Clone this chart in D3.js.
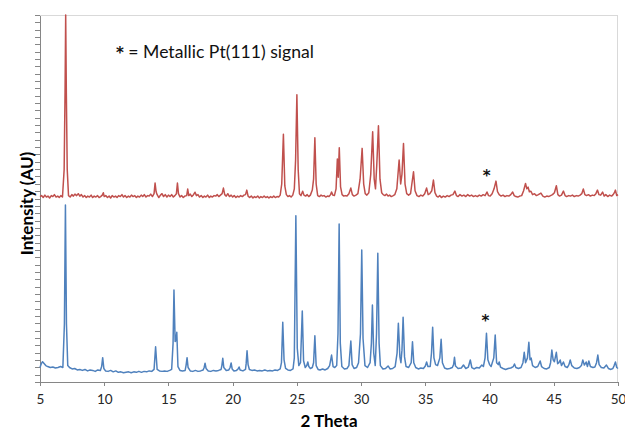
<!DOCTYPE html>
<html>
<head>
<meta charset="utf-8">
<script src="https://cdn.jsdelivr.net/npm/d3@7"></script>
<style>
  body { margin: 0; background: #fff; }
  svg { display: block; font-family: Lato, "Open Sans", sans-serif; }
  .axis path, .axis line { stroke: #868686; shape-rendering: crispEdges; }
  .axis text { fill: #262626; font-size: 13.5px; font-family: Lato, sans-serif; }
  .frame { stroke: #d9d9d9; fill: none; shape-rendering: crispEdges; }
  .trace { fill: none; stroke-width: 1.5; stroke-linejoin: round; }
  .star { font-family: "DejaVu Sans", sans-serif; font-weight: bold; }
</style>
</head>
<body>
<div id="chart"></div>
<script>
// 2 theta / intensity pairs (counts are arbitrary)
var x_ticks = [5, 10, 15, 20, 25, 30, 35, 40, 45, 50];
var red_offset = 1800;

var blue_pattern = [
  [5.00,150],[5.10,190],[5.20,210],[5.30,195],[5.45,170],[5.6,160],[5.8,150],[6.0,155],[6.2,145],[6.4,150],
  [6.6,160],[6.78,150],[6.9,600],[6.98,1832],[7.06,600],[7.16,170],[7.3,150],[7.5,135],[7.7,140],[7.9,125],
  [8.1,130],[8.3,120],[8.5,130],[8.7,115],[8.9,125],[9.1,120],[9.3,110],[9.5,125],[9.7,120],[9.8,160],
  [9.88,252],[9.97,140],[10.1,115],[10.3,110],[10.5,120],[10.7,105],[10.9,115],[11.1,100],[11.3,105],[11.5,95],
  [11.7,100],[11.9,105],[12.1,95],[12.3,105],[12.5,100],[12.7,110],[12.9,100],[13.1,110],[13.3,105],[13.5,115],
  [13.7,110],[13.88,130],[14.0,365],[14.12,130],[14.3,115],[14.5,110],[14.7,115],[14.9,110],[15.1,120],[15.25,130],
  [15.36,400],[15.43,952],[15.52,420],[15.58,430],[15.65,514],[15.74,160],[15.9,120],[16.1,115],[16.3,120],[16.37,170],
  [16.45,252],[16.53,150],[16.7,115],[16.9,110],[17.1,120],[17.3,110],[17.5,115],[17.7,125],[17.78,150],[17.85,194],
  [17.93,140],[18.1,115],[18.3,110],[18.5,120],[18.7,115],[18.9,120],[19.1,130],[19.16,170],[19.23,245],[19.31,150],
  [19.5,120],[19.7,125],[19.8,150],[19.88,197],[19.96,135],[20.1,115],[20.3,120],[20.42,135],[20.5,155],[20.58,125],
  [20.8,115],[21.0,130],[21.05,190],[21.12,324],[21.2,180],[21.3,130],[21.5,120],[21.7,125],[21.9,115],[22.1,120],
  [22.3,115],[22.5,125],[22.7,115],[22.9,120],[23.1,115],[23.3,125],[23.5,120],[23.7,135],[23.8,200],[23.9,618],
  [24.0,230],[24.12,140],[24.3,125],[24.5,120],[24.7,135],[24.8,250],[24.92,1721],[25.03,350],[25.15,170],[25.28,200],
  [25.42,735],[25.52,220],[25.65,150],[25.77,170],[25.85,207],[25.93,160],[26.05,140],[26.2,150],[26.3,200],[26.4,479],
  [26.5,170],[26.65,130],[26.8,125],[27.0,135],[27.2,125],[27.4,140],[27.55,170],[27.7,279],[27.82,160],[27.95,150],
  [28.1,170],[28.2,500],[28.29,1635],[28.38,400],[28.5,160],[28.7,135],[28.9,140],[29.05,170],[29.2,424],[29.3,180],
  [29.45,140],[29.65,150],[29.8,200],[29.95,500],[30.05,1366],[30.15,450],[30.3,170],[30.5,150],[30.7,200],[30.8,400],
  [30.88,797],[30.98,300],[31.1,170],[31.2,500],[31.3,1332],[31.4,400],[31.5,170],[31.7,135],[31.9,140],[32.1,166],
  [32.25,135],[32.45,140],[32.65,160],[32.8,300],[32.9,608],[33.02,260],[33.1,200],[33.18,330],[33.27,670],[33.38,260],
  [33.5,160],[33.7,150],[33.9,200],[34.0,417],[34.1,200],[34.25,150],[34.45,135],[34.65,145],[34.85,140],[35.0,165],
  [35.1,207],[35.2,160],[35.38,160],[35.48,300],[35.57,566],[35.67,250],[35.8,180],[35.95,170],[36.13,250],[36.23,442],
  [36.33,200],[36.5,145],[36.7,135],[36.9,140],[37.1,150],[37.2,180],[37.27,256],[37.35,165],[37.55,140],[37.8,145],
  [37.97,176],[38.15,140],[38.35,155],[38.5,228],[38.62,150],[38.8,135],[39.0,150],[39.2,145],[39.4,176],[39.52,160],
  [39.65,250],[39.76,504],[39.87,230],[40.0,180],[40.12,160],[40.33,250],[40.44,486],[40.55,200],[40.68,180],[40.75,207],
  [40.85,155],[41.05,140],[41.25,130],[41.45,140],[41.65,145],[41.85,160],[41.94,186],[42.05,150],[42.25,140],[42.45,150],
  [42.6,200],[42.7,307],[42.8,200],[42.95,250],[43.06,411],[43.15,230],[43.24,248],[43.35,170],[43.55,150],[43.75,160],
  [43.94,217],[44.05,160],[44.25,140],[44.45,135],[44.65,150],[44.75,200],[44.85,331],[44.95,230],[45.05,210],[45.2,307],
  [45.3,190],[45.4,200],[45.5,228],[45.6,170],[45.75,207],[45.88,160],[46.05,150],[46.18,180],[46.28,228],[46.4,170],
  [46.6,145],[46.8,140],[47.0,150],[47.15,170],[47.26,228],[47.38,175],[47.52,207],[47.62,160],[47.73,217],[47.85,160],
  [48.05,150],[48.2,155],[48.33,200],[48.43,279],[48.53,180],[48.7,150],[48.9,145],[49.1,176],[49.25,140],[49.45,130],
  [49.6,140],[49.7,170],[49.8,207],[49.9,150],[50.0,140]
];

var red_pattern = [
  [5.0,120],[5.12,130],[5.25,110],[5.38,135],[5.5,115],[5.62,125],[5.75,105],[5.88,130],[6.0,120],[6.12,140],
  [6.25,115],[6.38,125],[6.5,110],[6.62,130],[6.75,115],[6.88,400],[6.95,1200],[7.0,2000],[7.05,1200],[7.12,400],
  [7.22,130],[7.35,115],[7.48,140],[7.6,125],[7.72,145],[7.85,130],[7.98,150],[8.1,125],[8.22,140],[8.35,115],
  [8.48,130],[8.6,110],[8.72,125],[8.85,115],[8.98,135],[9.1,110],[9.22,125],[9.35,115],[9.48,130],[9.6,110],
  [9.72,120],[9.85,135],[9.93,160],[10.0,120],[10.12,130],[10.25,110],[10.38,125],[10.5,105],[10.62,130],[10.75,115],
  [10.88,125],[11.0,110],[11.12,130],[11.25,120],[11.38,140],[11.5,115],[11.62,130],[11.75,110],[11.88,125],[12.0,115],
  [12.12,135],[12.25,120],[12.38,130],[12.5,110],[12.62,125],[12.75,115],[12.88,135],[13.0,120],[13.12,140],[13.25,115],
  [13.38,130],[13.5,125],[13.62,145],[13.75,120],[13.88,150],[13.96,260],[14.04,170],[14.12,140],[14.25,110],[14.38,135],
  [14.5,150],[14.62,120],[14.75,140],[14.88,115],[15.0,135],[15.12,120],[15.25,140],[15.38,115],[15.5,130],[15.62,150],
  [15.7,260],[15.78,150],[15.9,115],[16.02,130],[16.15,110],[16.28,125],[16.42,130],[16.5,198],[16.58,130],[16.7,145],
  [16.82,120],[16.95,140],[17.07,165],[17.18,130],[17.3,140],[17.42,115],[17.55,130],[17.68,110],[17.8,125],[17.92,115],
  [18.05,135],[18.18,110],[18.3,125],[18.42,115],[18.55,130],[18.68,125],[18.8,140],[18.92,120],[19.05,135],[19.18,150],
  [19.28,208],[19.38,140],[19.5,125],[19.62,150],[19.75,120],[19.88,135],[20.0,115],[20.12,130],[20.25,110],[20.38,125],
  [20.5,115],[20.62,130],[20.75,120],[20.88,135],[21.0,140],[21.1,187],[21.2,125],[21.32,110],[21.45,125],[21.58,105],
  [21.7,120],[21.82,110],[21.95,125],[22.08,105],[22.2,120],[22.32,110],[22.45,125],[22.58,110],[22.7,120],[22.82,105],
  [22.95,120],[23.08,110],[23.2,125],[23.32,110],[23.45,120],[23.58,115],[23.7,135],[23.82,250],[23.95,764],[24.06,230],
  [24.18,140],[24.3,120],[24.42,130],[24.55,115],[24.68,135],[24.8,200],[24.9,500],[25.0,1174],[25.1,400],[25.2,150],
  [25.32,130],[25.45,175],[25.55,135],[25.68,125],[25.8,140],[25.92,120],[26.05,135],[26.2,187],[26.3,300],[26.4,729],
  [26.5,250],[26.62,130],[26.75,120],[26.88,135],[27.0,125],[27.12,130],[27.25,115],[27.38,125],[27.5,120],[27.62,140],
  [27.7,167],[27.8,135],[27.92,130],[28.05,200],[28.15,508],[28.22,320],[28.3,625],[28.4,220],[28.52,140],[28.65,125],
  [28.78,130],[28.9,125],[29.05,150],[29.2,208],[29.32,140],[29.45,125],[29.6,135],[29.75,150],[29.92,300],[30.08,619],
  [30.2,250],[30.32,150],[30.45,135],[30.6,160],[30.75,350],[30.9,791],[31.02,300],[31.12,200],[31.22,450],[31.35,853],
  [31.47,300],[31.6,160],[31.72,140],[31.85,130],[31.98,145],[32.1,125],[32.22,135],[32.35,120],[32.5,130],[32.62,140],
  [32.78,200],[32.96,498],[33.08,250],[33.18,350],[33.3,670],[33.42,250],[33.55,150],[33.7,135],[33.85,150],[33.95,250],
  [34.08,377],[34.2,180],[34.35,130],[34.5,120],[34.65,135],[34.8,125],[34.95,150],[35.1,208],[35.22,140],[35.35,150],
  [35.5,180],[35.63,291],[35.75,160],[35.88,125],[36.0,115],[36.12,130],[36.25,110],[36.4,125],[36.55,115],[36.7,130],
  [36.85,120],[37.0,135],[37.15,140],[37.3,177],[37.42,130],[37.55,120],[37.7,140],[37.85,125],[38.0,135],[38.15,120],
  [38.3,140],[38.45,125],[38.6,135],[38.75,120],[38.9,130],[39.05,120],[39.2,135],[39.35,125],[39.5,140],[39.65,130],
  [39.8,167],[39.92,130],[40.05,125],[40.2,150],[40.35,200],[40.5,280],[40.62,170],[40.75,140],[40.9,125],[41.05,135],
  [41.2,120],[41.35,130],[41.5,125],[41.65,140],[41.8,167],[41.92,130],[42.05,120],[42.2,115],[42.35,125],[42.5,130],
  [42.65,180],[42.8,256],[42.9,200],[43.0,218],[43.1,170],[43.22,175],[43.35,140],[43.5,150],[43.65,130],[43.8,140],
  [44.0,156],[44.15,125],[44.3,115],[44.45,125],[44.6,120],[44.75,130],[44.9,140],[45.05,160],[45.2,232],[45.32,140],
  [45.45,125],[45.6,135],[45.75,177],[45.88,130],[46.0,120],[46.15,130],[46.3,125],[46.45,135],[46.6,120],[46.75,130],
  [46.9,125],[47.05,135],[47.18,150],[47.3,198],[47.42,140],[47.55,130],[47.7,140],[47.85,125],[48.0,135],[48.15,130],
  [48.28,150],[48.4,187],[48.52,140],[48.65,135],[48.8,167],[48.92,125],[49.05,140],[49.2,120],[49.35,135],[49.5,125],
  [49.62,140],[49.72,160],[49.8,187],[49.9,130],[50.0,140]
];

// Pt(111) marks sit just above the 39.8 reflection of each trace
var pt_marks = [
  { theta: 39.78, counts: 2100, color: 'red' },
  { theta: 39.67, counts: 600, color: 'blue' }
];

var W = 625, H = 430;
var m = { top: 15, right: 7, bottom: 48, left: 40 };
var width  = W - m.left - m.right;
var height = H - m.top - m.bottom;

var svg = d3.select('#chart').append('svg')
  .attr('width', W)
  .attr('height', H);

var gph = svg.append('g')
  .attr('transform', `translate(${m.left},${m.top})`);

var x = d3.scaleLinear()
  .domain([5, 50])
  .range([0, width]);

var y = d3.scaleLinear()
  .domain([0, 3800])
  .range([height, 0]);

// light frame on top and right
gph.append('path')
  .attr('class', 'frame')
  .attr('d', `M0,0.5H${width - 0.5}V${height}`);

var y_axis = gph.append('g')
  .attr('class', 'axis y-axis')
  .call(d3.axisLeft(y)
    .tickValues(d3.range(0, 3801, 76))
    .tickSize(5)
    .tickSizeOuter(0)
    .tickFormat(''));

var x_axis = gph.append('g')
  .attr('class', 'axis x-axis')
  .attr('transform', `translate(0,${height})`)
  .call(d3.axisBottom(x)
    .tickValues(x_ticks)
    .tickSize(4)
    .tickSizeOuter(0));

x_axis.selectAll('text')
  .attr('y', 22)
  .attr('dy', 0);

var line = d3.line()
  .x((d) => x(d[0]))
  .y((d) => y(d[1]));

gph.append('path')
  .datum(blue_pattern)
  .attr('class', 'trace blue')
  .attr('stroke', '#4f81bd')
  .attr('d', line);

gph.append('path')
  .datum(red_pattern.map((d) => [d[0], d[1] + red_offset]))
  .attr('class', 'trace red')
  .attr('stroke', '#c0504d')
  .attr('d', line);

gph.selectAll('text.pt-mark')
  .data(pt_marks).enter()
  .append('text')
  .attr('class', (d) => `pt-mark star ${d.color}`)
  .attr('x', (d) => x(d.theta))
  .attr('y', (d) => y(d.counts) + 2)
  .attr('text-anchor', 'middle')
  .style('font-size', '15px')
  .style('fill', '#111')
  .text('*');

var note = svg.append('text')
  .attr('x', 116)
  .attr('y', 58)
  .style('font-size', '17.6px')
  .style('fill', '#111');

note.append('tspan')
  .attr('class', 'star')
  .style('font-size', '15px')
  .text('*');

note.append('tspan')
  .text(' = Metallic Pt(111) signal');

svg.append('text')
  .attr('x', m.left + width / 2)
  .attr('y', 427)
  .attr('text-anchor', 'middle')
  .style('font-size', '17px')
  .style('font-weight', 'bold')
  .text('2 Theta');

svg.append('text')
  .attr('transform', `translate(33,${m.top + height / 2 + 5}) rotate(-90)`)
  .attr('text-anchor', 'middle')
  .style('font-size', '17px')
  .style('font-weight', 'bold')
  .text('Intensity (AU)');
</script>
</body>
</html>
